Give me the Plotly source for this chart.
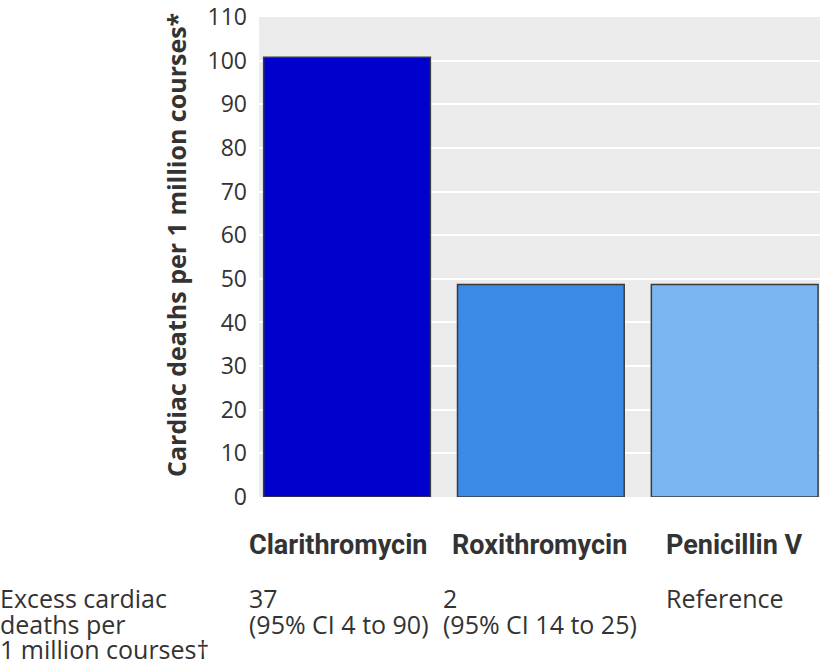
import plotly.graph_objects as go

categories = ["Clarithromycin", "Roxithromycin", "Penicillin V"]
deaths_per_million = [100.8, 48.7, 48.7]
bar_colors = ["#0000CC", "#3B8AE5", "#7AB6F2"]
excess_lines = [["37", "(95% CI 4 to 90)"], ["2", "(95% CI 14 to 25)"], ["Reference"]]
row_label_lines = ["Excess cardiac", "deaths per", "1 million courses†"]
y_ticks = [0, 10, 20, 30, 40, 50, 60, 70, 80, 90, 100, 110]
y_title = "Cardiac deaths per 1 million courses*"

W, H = 820, 672
L, R, T, B = 259, 0, 17, 175
pw, ph = W - L - R, H - T - B

def px_x(x):
    return (x - L) / pw

def px_y(y):
    return (H - B - y) / ph

fig = go.Figure()
fig.add_trace(go.Bar(
    x=list(range(len(categories))),
    y=deaths_per_million,
    width=0.86,
    marker=dict(color=bar_colors, line=dict(color="#3a3a3a", width=1.5)),
    hoverinfo="skip",
))

fig.update_layout(
    width=W, height=H,
    margin=dict(l=L, r=R, t=T, b=B),
    paper_bgcolor="white",
    plot_bgcolor="#EBEBEB",
    showlegend=False,
    font=dict(family="Open Sans", color="#333333"),
)
fig.update_xaxes(
    range=[-0.454, 2.44],
    showticklabels=False, showgrid=False, zeroline=False, ticks="",
)
fig.update_yaxes(
    range=[0, 110],
    tickvals=y_ticks,
    ticktext=[str(v) for v in y_ticks],
    showgrid=True, gridcolor="white", gridwidth=2,
    zeroline=False, ticks="",
    tickfont=dict(size=23, color="#333333", family="Open Sans"),
    ticklabelstandoff=11,
)

TXT = "#333333"
annotations = []
annotations.append(dict(
    text="<b>" + y_title + "</b>", textangle=-90,
    xref="paper", yref="paper", x=px_x(176), y=px_y(245),
    xanchor="center", yanchor="middle", showarrow=False,
    font=dict(size=25, family="Open Sans", color=TXT),
))
cat_left = [249, 452, 666]
for i, c in enumerate(categories):
    annotations.append(dict(
        text="<b>" + c + "</b>",
        xref="paper", yref="paper", x=px_x(cat_left[i] - 2), y=px_y(545),
        xanchor="left", yanchor="middle", showarrow=False,
        font=dict(size=27, family="Roboto", color=TXT),
    ))
col_left = [249, 443, 666]
line_y = [598, 624, 649]
for i, lines in enumerate(excess_lines):
    for j, t in enumerate(lines):
        annotations.append(dict(
            text=t,
            xref="paper", yref="paper", x=px_x(col_left[i] - 2), y=px_y(line_y[j]),
            xanchor="left", yanchor="middle", showarrow=False,
            font=dict(size=25, family="Open Sans", color=TXT),
        ))
for j, t in enumerate(row_label_lines):
    annotations.append(dict(
        text=t,
        xref="paper", yref="paper", x=px_x(-2), y=px_y(line_y[j]),
        xanchor="left", yanchor="middle", showarrow=False,
        font=dict(size=25, family="Open Sans", color=TXT),
    ))
fig.update_layout(annotations=annotations)

fig.write_html("out.html", config={"displayModeBar": False},
               post_script="document.body.style.margin='0px';")
